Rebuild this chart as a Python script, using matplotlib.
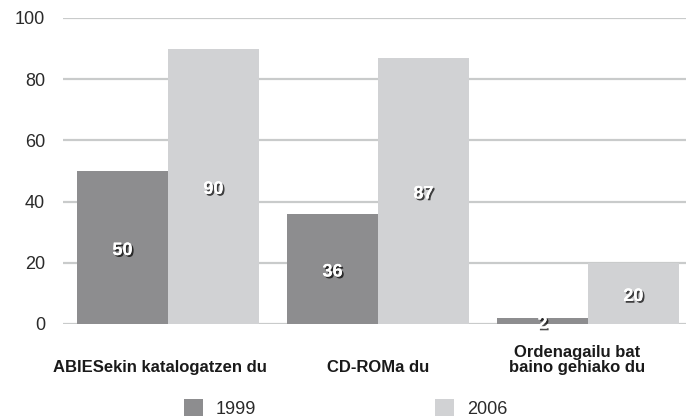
import matplotlib
matplotlib.use("Agg")
import matplotlib.pyplot as plt
import matplotlib.patheffects as pe
from matplotlib.patches import Patch
import numpy as np

categories = ["ABIESekin katalogatzen du", "CD-ROMa du", "Ordenagailu bat\nbaino gehiako du"]
years = ["1999", "2006"]
values_1999 = [50, 36, 2]
values_2006 = [90, 87, 20]
yticks = [0, 20, 40, 60, 80, 100]

c1999 = "#8d8d8f"
c2006 = "#d1d2d4"
grid_c = "#c9cbcb"
text_c = "#2a2a2a"

fig = plt.figure(figsize=(6.86, 4.18), dpi=100)
ax = fig.add_axes([63/686, 1-324/418, 1-63/686, (324-18)/418])

x = np.arange(len(categories))
w = 0.433
ax.bar(x - w/2, values_1999, w, color=c1999, zorder=2)
ax.bar(x + w/2, values_2006, w, color=c2006, zorder=2)

ax.set_xlim(-0.5, 2.467)
ax.set_ylim(0, 100)
ax.set_yticks(yticks)
ax.yaxis.grid(True, color=grid_c, linewidth=1.6, zorder=0)
ax.set_axisbelow(True)
for s in ax.spines.values():
    s.set_visible(False)
ax.tick_params(axis="y", length=0, pad=13, labelsize=13, labelcolor=text_c)
ax.set_xticks([])
for lab in ax.get_yticklabels():
    lab.set_family(["Liberation Sans", "DejaVu Sans"])

shadow = [pe.withSimplePatchShadow(offset=(1.3, -1.3), shadow_rgbFace="black", alpha=0.7), pe.Normal()]
for xs, vals in ((x - w/2, values_1999), (x + w/2, values_2006)):
    for xi, v in zip(xs, vals):
        ax.text(xi, v/2 - 1, str(v), ha="center", va="center", color="white",
                fontsize=13, fontweight="bold", family=["Liberation Sans", "DejaVu Sans"],
                path_effects=shadow, zorder=5, clip_on=False)

label_dx = [-0.04, 0.0, -0.05]
for xi, cat, dx in zip(x, categories, label_dx):
    ax.text(xi + dx, -16.8, cat, ha="center", va="bottom", fontsize=12, fontweight="bold",
            color="#1a1a1a", family=["Liberation Sans", "DejaVu Sans"],
            linespacing=1.05, clip_on=False)

handles = [Patch(facecolor=c1999, edgecolor="none"), Patch(facecolor=c2006, edgecolor="none")]
leg = fig.legend(handles, years, loc="lower left", bbox_to_anchor=(184/686, 0.0), ncol=2,
                 frameon=False, borderpad=0, borderaxespad=0,
                 handlelength=1.05, handleheight=1.05, handletextpad=0.72,
                 columnspacing=9.9, prop={"family": ["Liberation Sans", "DejaVu Sans"], "size": 13})
for t in leg.get_texts():
    t.set_color(text_c)

fig.savefig("out.png", dpi=100)
